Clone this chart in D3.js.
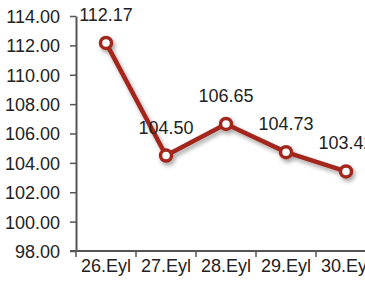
<!DOCTYPE html>
<html>
<head>
<meta charset="utf-8">
<script src="https://cdn.jsdelivr.net/npm/d3@7"></script>
<style>
  body { margin: 0; background: #fff; }
  svg { display: block; font-family: "Liberation Sans", Arial, sans-serif; }
</style>
</head>
<body>
<figure id="line" style="margin:0"></figure>
<script>
const categories = ["26.Eyl", "27.Eyl", "28.Eyl", "29.Eyl", "30.Eyl"];
const values = [112.17, 104.50, 106.65, 104.73, 103.42];
const yTicks = [98, 100, 102, 104, 106, 108, 110, 112, 114];

const width = 365, height = 286;
const marginLeft = 76, marginTop = 16, plotH = 235, bandW = 60;

const svg = d3.select("figure#line")
  .append("svg")
  .attr("width", width)
  .attr("height", height);

// shadow under the line
const defs = svg.append("defs");
const f = defs.append("filter").attr("id", "shadow")
  .attr("x", "-20%").attr("y", "-20%").attr("width", "140%").attr("height", "140%");
f.append("feDropShadow")
  .attr("dx", 2).attr("dy", 3).attr("stdDeviation", 2)
  .attr("flood-color", "#000").attr("flood-opacity", 0.35);

const x = d3.scaleBand()
  .domain(categories)
  .range([marginLeft, marginLeft + bandW * categories.length]);

const y = d3.scaleLinear()
  .domain([98, 114])
  .range([marginTop + plotH, marginTop]);

// Y axis
const yAxis = svg.append("g")
  .attr("transform", `translate(${marginLeft},0)`)
  .call(d3.axisLeft(y).tickValues(yTicks).tickFormat(d3.format(".2f")).tickSize(6).tickSizeOuter(0));
yAxis.selectAll("text").style("font-size", "18px").attr("fill", "#222").attr("x", -16).attr("dy", "0.36em");
yAxis.selectAll("line").attr("stroke", "#555").attr("stroke-width", 1.5);
yAxis.select(".domain").attr("stroke", "#555").attr("stroke-width", 2);

// X axis: ticks between categories
const xAxis = svg.append("g")
  .attr("transform", `translate(0,${marginTop + plotH})`);
xAxis.append("line")
  .attr("x1", marginLeft - 6).attr("x2", width)
  .attr("stroke", "#555").attr("stroke-width", 2);
xAxis.selectAll(".tk")
  .data(categories)
  .enter()
  .append("line")
  .attr("x1", d => x(d)).attr("x2", d => x(d))
  .attr("y1", 0).attr("y2", 6)
  .attr("stroke", "#555").attr("stroke-width", 1.5);
xAxis.selectAll(".lbl")
  .data(categories)
  .enter()
  .append("text")
  .attr("x", d => x(d) + x.bandwidth() / 2)
  .attr("y", 21)
  .attr("text-anchor", "middle")
  .style("font-size", "18px")
  .attr("fill", "#222")
  .text(d => d);

const data = categories.map((c, i) => ({ c, v: values[i] }));
const cx = d => x(d.c) + x.bandwidth() / 2;

const g = svg.append("g").attr("filter", "url(#shadow)");
g.append("path")
  .datum(data)
  .attr("fill", "none")
  .attr("stroke", "#a3261e")
  .attr("stroke-width", 4.5)
  .attr("stroke-linejoin", "round")
  .attr("d", d3.line().x(cx).y(d => y(d.v)));

g.selectAll("circle")
  .data(data)
  .enter()
  .append("circle")
  .attr("cx", cx)
  .attr("cy", d => y(d.v))
  .attr("r", 5.5)
  .attr("fill", "#fff")
  .attr("stroke", "#a3261e")
  .attr("stroke-width", 3.5);

// value labels
svg.selectAll(".val")
  .data(data)
  .enter()
  .append("text")
  .attr("x", cx)
  .attr("y", d => y(d.v) - 22)
  .attr("text-anchor", "middle")
  .style("font-size", "18px")
  .attr("fill", "#222")
  .text(d => d.v.toFixed(2));
</script>
</body>
</html>
